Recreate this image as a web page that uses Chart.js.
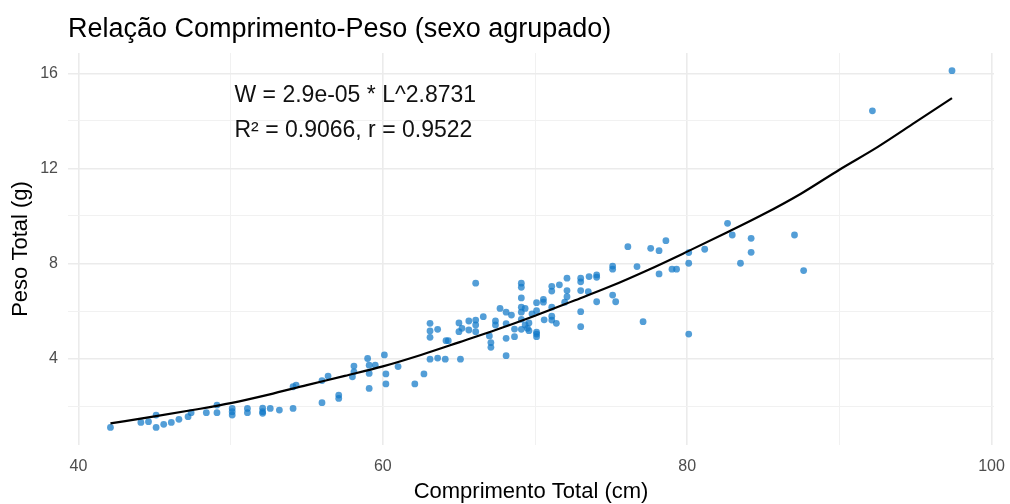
<!DOCTYPE html>
<html>
<head>
<meta charset="utf-8">
<script src="https://cdn.jsdelivr.net/npm/chart.js@4/dist/chart.umd.min.js"></script>
<style>
html,body{margin:0;padding:0;background:#fff;}
#wrap{width:1010px;height:504px;}
</style>
</head>
<body>
<div id="wrap"><canvas id="c" width="1010" height="504"></canvas></div>
<script>
// ---- Data ----
const compLen = [42.1,44.1,44.6,45.1,45.1,45.6,46.1,46.6,47.2,47.4,48.4,49.1,49.1,50.1,50.1,50.1,51.1,51.1,52.1,52.1,52.1,52.6,53.2,54.1,54.1,54.3,56.0,56.0,56.4,57.1,57.1,58.0,58.1,58.1,59.0,59.1,59.1,59.1,59.5,60.1,60.2,60.2,61.0,62.1,62.7,63.1,63.6,64.1,65.1,64.15,64.3,63.1,63.1,63.1,63.6,65.0,65.0,65.2,65.65,65.65,66.1,66.1,66.1,66.1,66.6,67.0,67.1,67.1,67.4,67.4,67.7,68.1,68.1,68.1,68.1,68.45,68.65,68.65,69.1,69.1,69.1,69.1,69.1,69.1,69.1,69.35,69.35,69.5,69.6,69.6,69.8,70.1,70.1,70.1,70.1,70.1,70.55,70.55,70.6,71.1,71.1,71.1,71.1,71.1,71.4,71.6,71.95,72.1,72.1,72.1,73.0,73.0,73.0,73.0,73.0,73.5,73.55,74.05,74.05,74.05,75.1,75.1,75.1,75.3,76.1,76.7,77.1,77.6,78.15,78.6,78.15,79.0,79.3,80.1,80.1,80.1,81.15,82.65,82.96,83.5,84.2,84.2,87.05,87.65,92.17,97.4];
const pesoTot = [1.10,1.31,1.34,1.62,1.10,1.23,1.31,1.44,1.55,1.72,1.72,2.04,1.72,1.90,1.76,1.62,1.90,1.72,1.91,1.76,1.69,1.90,1.83,1.90,2.81,2.88,2.14,3.07,3.26,2.46,2.32,3.23,3.44,3.68,4.00,3.72,3.37,2.74,3.72,4.15,3.35,2.93,3.66,2.93,3.35,3.97,4.02,3.97,3.97,4.75,4.75,4.89,5.16,5.48,5.23,5.50,5.13,5.27,5.58,5.20,7.17,5.62,5.41,5.13,5.76,4.95,4.67,4.47,5.58,5.41,6.11,4.12,5.95,5.47,4.85,5.83,5.24,4.92,7.17,7.00,6.55,6.16,5.95,5.65,5.23,6.11,5.41,5.27,5.17,5.50,5.88,6.35,6.01,5.11,5.03,4.92,6.49,6.37,5.63,7.04,6.84,6.16,5.78,5.62,5.48,7.10,6.37,7.38,6.86,6.60,7.38,7.23,6.86,5.97,5.34,6.81,7.45,7.52,7.42,6.39,7.89,7.76,6.67,6.39,8.71,7.87,5.55,8.64,8.54,8.96,7.56,7.76,7.76,8.46,8.01,5.03,8.60,9.69,9.20,8.01,9.06,8.47,9.20,7.70,14.43,16.12];

// fitted curve
const curveX = [42.1,45,47.5,50,52.5,55,57.5,60,62.5,65,67.5,70,72.5,75,77.5,80,82.5,85,87.5,90,92.5,95,97.4];
const curveY = [1.27,1.56,1.83,2.12,2.48,2.88,3.27,3.67,4.15,4.68,5.22,5.80,6.42,7.05,7.75,8.50,9.27,10.07,10.95,11.95,12.90,13.95,14.96];

const xTicks = [40,50,60,70,80,90,100];
const xLabelTicks = [40,60,80,100];
const yTicks = [2,4,6,8,10,12,14,16];
const yLabelTicks = [4,8,12,16];

const titleText = 'Relação Comprimento-Peso (sexo agrupado)';
const xTitle = 'Comprimento Total (cm)';
const yTitle = 'Peso Total (g)';
const annoLines = ['W = 2.9e-05 * L^2.8731', 'R² = 0.9066, r = 0.9522'];
const annoX = 50.25;
const annoY = [14.80, 13.33];

// ---- build ----
const FONT = "'Liberation Sans', Arial, Helvetica, sans-serif";
const pts = compLen.map((x,i)=>({x:x, y:pesoTot[i]}));
const crv = curveX.map((x,i)=>({x:x, y:curveY[i]}));

const textPlugin = {
  id: 'texts',
  afterDraw(chart){
    const ctx = chart.ctx, ca = chart.chartArea;
    const xs = chart.scales.x, ys = chart.scales.y;
    ctx.save();
    ctx.fillStyle = '#000';
    ctx.textAlign = 'left';
    ctx.textBaseline = 'alphabetic';
    ctx.font = '27px ' + FONT;
    ctx.fillText(titleText, ca.left, 37);
    ctx.font = '22px ' + FONT;
    ctx.textAlign = 'center';
    ctx.fillText(xTitle, (ca.left+ca.right)/2, 498);
    ctx.save();
    ctx.translate(27, (ca.top+ca.bottom)/2);
    ctx.rotate(-Math.PI/2);
    ctx.fillText(yTitle, 0, 0);
    ctx.restore();
    ctx.font = '23px ' + FONT;
    ctx.textAlign = 'left';
    ctx.fillStyle = '#111';
    annoLines.forEach((t,i)=>{
      ctx.fillText(t, xs.getPixelForValue(annoX), ys.getPixelForValue(annoY[i]));
    });
    ctx.restore();
  }
};

function gridColor(majors){
  return (c)=> (c.tick && majors.includes(c.tick.value)) ? '#ebebeb' : '#f1f1f1';
}
function gridWidth(majors){
  return (c)=> (c.tick && majors.includes(c.tick.value)) ? 1.6 : 1;
}

new Chart(document.getElementById('c'), {
  type: 'scatter',
  data: {
    datasets: [
      {
        type: 'line',
        data: crv,
        borderColor: '#000',
        borderWidth: 2.2,
        pointRadius: 0,
        fill: false,
        cubicInterpolationMode: 'monotone',
        order: 0
      },
      {
        data: pts,
        backgroundColor: 'rgba(16,120,200,0.72)',
        borderWidth: 0,
        pointRadius: 3.4,
        pointHoverRadius: 3.4,
        order: 1
      }
    ]
  },
  options: {
    responsive: false,
    animation: false,
    devicePixelRatio: 1,
    layout: { padding: { top: 53, right: 16, left: 0, bottom: 0 } },
    plugins: { legend: { display: false }, tooltip: { enabled: false }, title: { display: false } },
    scales: {
      x: {
        type: 'linear',
        min: 39.31,
        max: 100.16,
        afterBuildTicks: (s)=>{ s.ticks = xTicks.map(v=>({value:v})); },
        afterFit: (s)=>{ s.height = 59; s.paddingLeft = 0; s.paddingRight = 0; },
        border: { display: false },
        grid: { color: gridColor(xLabelTicks), lineWidth: gridWidth(xLabelTicks), drawTicks: false },
        ticks: {
          autoSkip: false, maxRotation: 0, padding: 12,
          color: '#4d4d4d', font: { family: FONT, size: 16 },
          callback: (v)=> xLabelTicks.includes(v) ? String(v) : ''
        }
      },
      y: {
        type: 'linear',
        min: 0.358,
        max: 16.863,
        afterBuildTicks: (s)=>{ s.ticks = yTicks.map(v=>({value:v})); },
        afterFit: (s)=>{ s.width = 68; s.paddingTop = 0; s.paddingBottom = 0; },
        border: { display: false },
        grid: { color: gridColor(yLabelTicks), lineWidth: gridWidth(yLabelTicks), drawTicks: false },
        ticks: {
          autoSkip: false, padding: 10,
          color: '#4d4d4d', font: { family: FONT, size: 16 },
          callback: (v)=> yLabelTicks.includes(v) ? String(v) : ''
        }
      }
    }
  },
  plugins: [textPlugin]
});
</script>
</body>
</html>
